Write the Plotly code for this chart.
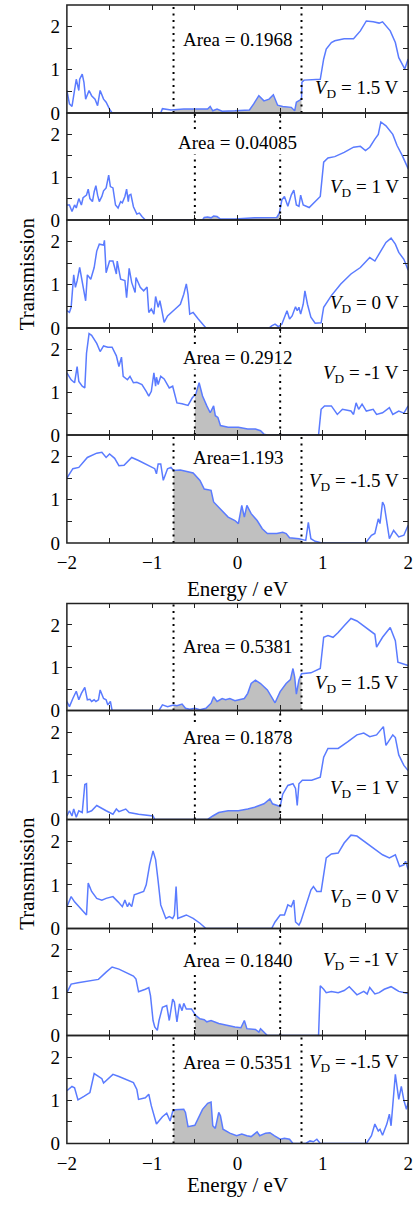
import numpy as np
import plotly.graph_objects as go

# ---------------- data (Energy in eV, Transmission) ----------------
# top group
E_a1 = [-2.0,-1.97,-1.94,-1.91,-1.89,-1.86,-1.85,-1.82,-1.80,-1.78,-1.74,-1.71,-1.67,-1.64,-1.61,-1.57,-1.54,-1.50,-1.47,-0.90,-0.88,-0.78,-0.63,-0.41,-0.35,-0.32,-0.29,-0.24,-0.18,-0.03,0.14,0.19,0.25,0.31,0.37,0.42,0.47,0.53,0.63,0.67,0.69,0.75,0.755,0.78,0.97,1.01,1.04,1.10,1.14,1.25,1.36,1.44,1.51,1.59,1.66,1.70,1.79,1.85,1.89,1.96,2.0]
T_a1 = [0.52,0.21,0.15,0.48,0.78,0.52,0.78,0.90,0.71,0.32,0.52,0.40,0.32,0.17,0.52,0.32,0.25,0.09,0.0,0.0,0.10,0.07,0.09,0.09,0.09,0.15,0.05,0.09,0.04,0.05,0.07,0.21,0.40,0.28,0.32,0.42,0.18,0.15,0.13,0.05,0.25,0.32,0.71,0.76,0.78,1.25,1.48,1.63,1.67,1.72,1.72,1.90,2.13,2.11,2.08,2.11,1.90,1.63,1.28,1.02,1.25]

E_a2 = [-2.0,-1.97,-1.94,-1.91,-1.89,-1.86,-1.83,-1.81,-1.77,-1.75,-1.73,-1.70,-1.68,-1.66,-1.64,-1.62,-1.59,-1.57,-1.54,-1.51,-1.49,-1.46,-1.43,-1.40,-1.37,-1.35,-1.32,-1.30,-1.28,-1.27,-1.25,-1.22,-1.18,-1.15,-1.12,-1.08,-0.41,-0.39,-0.35,-0.31,-0.28,-0.24,-0.20,-0.03,0.20,0.46,0.49,0.52,0.55,0.59,0.63,0.66,0.69,0.72,0.74,0.77,0.84,0.97,1.01,1.06,1.14,1.25,1.36,1.44,1.50,1.55,1.61,1.65,1.68,1.74,1.82,1.87,1.93,2.0]
T_a2 = [0.35,0.35,0.20,0.35,0.28,0.50,0.35,0.52,0.58,0.72,0.50,0.43,0.66,0.80,0.58,0.43,0.55,0.68,0.75,1.05,0.78,0.75,0.35,0.28,0.43,0.40,0.55,0.72,0.43,0.58,0.60,0.31,0.14,0.16,0.08,0.0,0.0,0.06,0.07,0.05,0.09,0.08,0.02,0.02,0.05,0.06,0.16,0.47,0.55,0.32,0.58,0.70,0.35,0.32,0.58,0.35,0.29,0.55,1.35,1.45,1.48,1.58,1.70,1.72,1.62,1.70,1.89,2.0,2.29,2.2,2.0,1.74,1.51,1.2]

E_a3 = [-2.0,-1.97,-1.95,-1.92,-1.90,-1.88,-1.85,-1.82,-1.78,-1.76,-1.72,-1.68,-1.65,-1.62,-1.57,-1.56,-1.54,-1.50,-1.46,-1.42,-1.41,-1.37,-1.32,-1.30,-1.27,-1.24,-1.20,-1.19,-1.14,-1.10,-1.06,-1.04,-1.01,-0.98,-0.96,-0.93,-0.91,-0.89,-0.86,-0.82,-0.78,-0.73,-0.67,-0.63,-0.60,-0.58,-0.56,-0.52,-0.46,-0.41,-0.37,0.37,0.40,0.44,0.48,0.52,0.55,0.58,0.61,0.64,0.68,0.70,0.72,0.74,0.77,0.79,0.82,0.86,0.91,0.98,1.01,1.10,1.21,1.33,1.44,1.55,1.61,1.66,1.74,1.80,1.85,1.89,1.95,2.0]
T_a3 = [0.40,0.36,0.48,1.23,0.94,1.09,1.40,1.05,0.63,1.23,1.13,1.40,1.78,1.94,1.92,2.03,1.28,1.55,1.55,1.25,1.55,1.13,1.10,0.70,1.38,1.05,0.82,1.17,0.94,0.86,0.95,0.36,0.44,0.32,0.73,0.48,0.63,0.44,0.13,0.28,0.36,0.44,0.55,0.78,1.02,0.78,0.32,0.36,0.21,0.09,0.0,0.0,0.05,0.09,0.03,0.09,0.25,0.40,0.21,0.28,0.49,0.40,0.48,0.32,0.55,0.86,0.55,0.25,0.11,0.12,0.48,0.75,1.02,1.25,1.40,1.63,1.55,1.71,1.98,2.08,1.94,1.75,1.59,1.34]

E_a4 = [-2.0,-1.95,-1.91,-1.88,-1.86,-1.82,-1.79,-1.77,-1.74,-1.71,-1.65,-1.61,-1.57,-1.52,-1.47,-1.42,-1.39,-1.36,-1.34,-1.29,-1.26,-1.22,-1.18,-1.12,-1.07,-1.04,-1.01,-0.98,-0.96,-0.95,-0.93,-0.90,-0.86,-0.80,-0.76,-0.71,-0.65,-0.58,-0.53,-0.49,-0.45,-0.41,-0.36,-0.32,-0.28,-0.26,-0.23,-0.20,-0.11,0.01,0.12,0.21,0.27,0.31,0.35,0.95,0.98,1.02,1.10,1.17,1.23,1.33,1.36,1.39,1.42,1.46,1.51,1.59,1.63,1.70,1.78,1.82,1.89,1.95,2.0]
T_a4 = [1.45,1.29,1.22,1.60,1.25,1.14,1.10,1.91,2.37,2.33,2.14,1.95,2.08,2.05,2.05,1.85,1.60,1.82,1.37,1.29,1.37,1.22,1.23,1.18,1.02,0.91,1.02,1.45,1.14,1.35,1.18,1.37,1.31,1.10,1.14,0.75,0.73,0.69,0.87,0.95,1.22,0.91,0.68,0.52,0.68,0.45,0.41,0.22,0.18,0.18,0.14,0.14,0.10,0.02,0.0,0.0,0.60,0.68,0.68,0.48,0.60,0.56,0.48,0.75,0.60,0.72,0.56,0.60,0.48,0.52,0.64,0.48,0.56,0.51,0.68]

E_a5 = [-2.0,-1.93,-1.86,-1.76,-1.65,-1.59,-1.54,-1.50,-1.44,-1.39,-1.33,-1.24,-1.16,-1.05,-0.97,-0.95,-0.93,-0.90,-0.87,-0.82,-0.78,-0.75,-0.67,-0.52,-0.44,-0.39,-0.31,-0.28,-0.18,-0.11,-0.03,0.01,0.05,0.08,0.11,0.16,0.23,0.29,0.35,0.46,0.53,0.57,0.61,0.72,0.80,0.83,0.86,0.91,0.99,1.50,1.57,1.61,1.65,1.67,1.70,1.72,1.78,1.83,1.89,1.95,2.0]
T_a5 = [1.50,1.72,1.75,1.98,2.08,2.10,1.98,2.06,1.96,1.79,1.80,1.98,1.91,1.79,1.72,1.60,1.83,1.83,1.45,1.72,1.75,1.68,1.69,1.62,1.45,1.25,1.22,0.95,0.75,0.60,0.52,0.45,0.87,0.60,0.87,0.68,0.52,0.33,0.22,0.22,0.25,0.22,0.12,0.10,0.06,0.48,0.10,0.04,0.0,0.0,0.18,0.22,0.56,0.45,0.95,0.87,0.10,0.29,0.14,0.18,0.41]

# bottom group
E_b1 = [-2.0,-1.97,-1.93,-1.89,-1.86,-1.83,-1.79,-1.76,-1.73,-1.71,-1.68,-1.66,-1.63,-1.61,-1.57,-1.54,-1.52,-1.49,-1.47,-0.92,-0.88,-0.82,-0.75,-0.71,-0.65,-0.61,-0.56,-0.50,-0.44,-0.37,-0.31,-0.28,-0.24,-0.18,-0.14,-0.09,-0.03,0.08,0.12,0.16,0.21,0.27,0.35,0.40,0.44,0.50,0.57,0.62,0.65,0.67,0.69,0.72,0.75,0.86,0.97,1.01,1.06,1.12,1.18,1.25,1.33,1.40,1.48,1.61,1.63,1.70,1.79,1.85,1.88,1.95,2.0]
T_b1 = [0.21,0.09,0.28,0.45,0.25,0.40,0.54,0.25,0.26,0.21,0.25,0.21,0.25,0.48,0.28,0.25,0.13,0.21,0.0,0.0,0.13,0.09,0.13,0.11,0.15,0.05,0.03,0.05,0.02,0.05,0.17,0.32,0.21,0.28,0.25,0.28,0.23,0.28,0.40,0.63,0.71,0.63,0.48,0.32,0.18,0.44,0.63,0.72,0.98,0.78,0.38,0.71,0.86,0.88,0.98,1.71,1.75,1.71,1.82,1.98,2.15,2.09,1.98,1.78,1.48,1.71,1.94,1.63,1.13,1.09,1.05]

E_b2 = [-2.0,-1.97,-1.94,-1.92,-1.89,-1.86,-1.82,-1.79,-1.77,-1.76,-1.71,-1.65,-1.54,-1.46,-1.42,-1.39,-1.31,-1.27,-1.16,-1.05,-0.99,-0.97,-0.35,-0.29,-0.22,-0.11,0.01,0.12,0.20,0.31,0.38,0.41,0.46,0.50,0.53,0.59,0.65,0.68,0.70,0.72,0.76,0.87,0.97,1.01,1.06,1.18,1.29,1.40,1.48,1.55,1.63,1.71,1.74,1.78,1.82,1.85,1.89,1.95,2.0]
T_b2 = [0.08,0.20,0.08,0.24,0.05,0.20,0.16,0.80,0.82,0.16,0.20,0.32,0.20,0.12,0.24,0.18,0.24,0.16,0.12,0.10,0.08,0.0,0.0,0.08,0.16,0.20,0.20,0.24,0.28,0.36,0.47,0.36,0.32,0.30,0.58,0.78,0.82,0.71,0.32,0.82,0.90,0.90,0.97,1.43,1.63,1.63,1.78,1.94,1.98,1.90,1.94,2.13,1.70,1.82,1.94,1.88,1.48,1.24,1.12]

E_b3 = [-2.0,-1.95,-1.91,-1.86,-1.82,-1.77,-1.75,-1.71,-1.65,-1.59,-1.54,-1.46,-1.40,-1.35,-1.32,-1.29,-1.27,-1.24,-1.21,-1.16,-1.10,-1.07,-1.03,-0.99,-0.96,-0.93,-0.90,-0.84,-0.80,-0.76,-0.74,-0.72,-0.70,-0.65,-0.60,-0.52,-0.44,-0.37,0.40,0.44,0.50,0.55,0.59,0.63,0.66,0.68,0.72,0.74,0.80,0.86,0.89,0.93,0.98,1.01,1.04,1.10,1.18,1.25,1.33,1.40,1.48,1.59,1.70,1.78,1.85,1.90,1.95,1.97,2.0]
T_b3 = [0.50,0.73,0.61,0.50,0.42,0.31,1.04,0.85,0.69,0.65,0.69,0.73,0.61,0.50,0.65,0.50,0.58,0.50,0.77,0.81,0.85,1.00,1.46,1.78,1.58,1.08,0.54,0.23,0.27,0.23,0.31,0.96,0.23,0.27,0.31,0.23,0.12,0.0,0.0,0.15,0.31,0.31,0.54,0.50,0.65,0.15,0.08,0.15,0.50,0.88,0.96,0.85,0.85,1.23,1.62,1.71,1.73,1.96,2.14,2.12,2.00,1.85,1.69,1.62,1.69,1.42,1.46,1.54,1.35]

E_b4 = [-2.0,-1.95,-1.87,-1.76,-1.63,-1.54,-1.47,-1.39,-1.22,-1.19,-1.16,-1.08,-1.04,-1.02,-0.99,-0.97,-0.94,-0.92,-0.88,-0.83,-0.80,-0.76,-0.74,-0.71,-0.68,-0.65,-0.63,-0.60,-0.54,-0.49,-0.44,-0.39,-0.36,-0.31,-0.27,-0.22,-0.03,0.04,0.08,0.11,0.21,0.25,0.27,0.31,0.35,0.95,0.97,1.01,1.04,1.10,1.18,1.25,1.31,1.40,1.48,1.52,1.55,1.61,1.66,1.72,1.80,1.85,1.89,2.0]
T_b4 = [1.00,1.20,1.23,1.26,1.31,1.48,1.60,1.55,1.39,1.32,1.02,1.08,1.12,0.93,0.35,0.20,0.12,0.35,0.66,0.70,0.35,0.85,0.78,0.32,0.74,0.58,0.75,0.62,0.62,0.47,0.39,0.37,0.32,0.35,0.32,0.28,0.20,0.18,0.35,0.16,0.14,0.08,0.16,0.08,0.0,0.0,1.16,1.08,1.00,1.03,1.00,1.05,1.14,0.95,1.03,0.97,1.12,0.97,1.00,1.08,1.14,1.08,1.03,0.98]

E_b5 = [-2.0,-1.94,-1.91,-1.87,-1.80,-1.76,-1.73,-1.68,-1.59,-1.57,-1.46,-1.39,-1.22,-1.18,-1.16,-1.08,-1.04,-1.01,-0.95,-0.88,-0.83,-0.79,-0.76,-0.73,-0.63,-0.61,-0.58,-0.50,-0.41,-0.35,-0.31,-0.29,-0.26,-0.22,-0.20,-0.17,-0.14,-0.09,-0.01,0.05,0.11,0.16,0.23,0.26,0.33,0.38,0.43,0.50,0.55,0.61,0.65,0.80,0.85,0.89,0.93,0.97,1.51,1.57,1.61,1.65,1.67,1.70,1.75,1.78,1.80,1.85,1.89,1.92,1.95,1.98,2.0]
T_b5 = [1.22,1.32,1.29,1.01,1.09,1.14,1.18,1.62,1.50,1.40,1.60,1.55,1.41,1.25,1.02,1.06,1.14,0.87,0.45,0.62,0.70,0.52,0.74,0.78,0.79,0.72,0.39,0.42,0.79,0.93,0.96,0.41,0.35,0.72,0.64,0.33,0.29,0.24,0.18,0.22,0.18,0.16,0.27,0.18,0.24,0.25,0.18,0.10,0.12,0.10,0.0,0.0,0.06,0.04,0.10,0.0,0.0,0.18,0.45,0.29,0.33,0.19,0.45,0.68,0.41,1.60,1.02,1.32,1.00,0.79,0.95]

VD_labels = ["1.5", "1", "0", "-1", "-1.5"]
area_top = ["Area = 0.1968", "Area = 0.04085", None, "Area = 0.2912", "Area=1.193"]
area_bot = ["Area = 0.5381", "Area = 0.1878", None, "Area = 0.1840", "Area = 0.5351"]
windows = [0.75, 0.5, None, 0.5, 0.75]   # integration window half-widths (eV)
x_ticks = [-2, -1, 0, 1, 2]
y_ticks = [0, 1, 2]

# ---------------- layout constants ----------------
W, H = 417, 1209
FONT = "Liberation Serif"
LINE = "#5a7bff"
FILL = "#c0c0c0"
AX = "#222222"
xdom = [59 / W, 413 / W]
group_bounds = [[5, 114, 222, 331, 439, 548], [609, 717, 827, 937, 1045, 1154]]
panel_px = []
for gb in group_bounds:
    for j in range(5):
        panel_px.append((gb[j], gb[j + 1]))
vd_y = [0.55, 0.74, 0.55, 1.43, 1.41, 0.62, 0.69, 0.69, 1.73, 1.87]
area_y = [1.71, 1.82, None, 1.82, 1.99, 1.50, 1.87, None, 1.75, 1.87]

panels = [(E_a1, T_a1), (E_a2, T_a2), (E_a3, T_a3), (E_a4, T_a4), (E_a5, T_a5),
          (E_b1, T_b1), (E_b2, T_b2), (E_b3, T_b3), (E_b4, T_b4), (E_b5, T_b5)]
areas = area_top + area_bot

fig = go.Figure()
layout = dict(width=W, height=H, margin=dict(l=0, r=0, t=0, b=0),
              paper_bgcolor="white", plot_bgcolor="white", showlegend=False,
              font=dict(family=FONT, size=19, color="black"))
annotations = []
shapes = []

for i, (E, T) in enumerate(panels):
    k = i + 1
    xs = "x" if k == 1 else f"x{k}"
    ys = "y" if k == 1 else f"y{k}"
    w = windows[i % 5]
    if w is not None:
        Ea = np.array(E); Ta = np.array(T)
        inside = (Ea > -w) & (Ea < w)
        fx = np.concatenate([[-w], Ea[inside], [w]])
        fy = np.concatenate([[np.interp(-w, Ea, Ta)], Ta[inside], [np.interp(w, Ea, Ta)]])
        fig.add_trace(go.Scatter(x=fx, y=fy, mode="lines", fill="tozeroy",
                                 fillcolor=FILL, line=dict(width=0, color=FILL),
                                 xaxis=xs, yaxis=ys, hoverinfo="skip"))
        for xv in (-w, w):
            shapes.append(dict(type="line", xref=xs, yref=f"{ys} domain",
                               x0=xv, x1=xv, y0=0, y1=1,
                               line=dict(color="black", width=2, dash="2px,4.5px")))
    fig.add_trace(go.Scatter(x=E, y=T, mode="lines", line=dict(color=LINE, width=1.5),
                             xaxis=xs, yaxis=ys))
    # panel frame (drawn once, so shared borders stay thin)
    shapes.append(dict(type="rect", xref=f"{xs} domain", yref=f"{ys} domain",
                       x0=0, x1=1, y0=0, y1=1, line=dict(color=AX, width=1.5),
                       fillcolor="rgba(0,0,0,0)"))

    top, bot = panel_px[i]
    bottom_panel = (i % 5 == 4)
    layout["xaxis" if k == 1 else f"xaxis{k}"] = dict(
        domain=xdom, anchor=ys, range=[-2, 2], tickvals=x_ticks,
        ticks="inside", ticklen=5, tickwidth=1, tickcolor=AX,
        minor=dict(dtick=0.5, tick0=0, ticks="inside", ticklen=5, tickwidth=1, tickcolor=AX),
        showline=False, linewidth=1, mirror="ticks",
        showgrid=False, zeroline=False, showticklabels=bottom_panel,
        ticklabelstandoff=6, ticklabeloverflow="allow",
        tickfont=dict(family=FONT, size=19))
    layout["yaxis" if k == 1 else f"yaxis{k}"] = dict(
        domain=[1 - bot / H, 1 - top / H], anchor=xs, range=[0, 2.5], tickvals=y_ticks,
        ticks="inside", ticklen=5, tickwidth=1, tickcolor=AX,
        minor=dict(dtick=0.5, tick0=0, ticks="inside", ticklen=5, tickwidth=1, tickcolor=AX),
        showline=False, linewidth=1, mirror="ticks",
        showgrid=False, zeroline=False, ticklabelstandoff=6,
        tickfont=dict(family=FONT, size=19))

    annotations.append(dict(xref=xs, yref=ys, x=1.92, y=vd_y[i], xanchor="right",
                            yanchor="middle", showarrow=False,
                            text=f"<i>V</i><sub>D</sub> = {VD_labels[i % 5]} V",
                            font=dict(family=FONT, size=19)))
    if areas[i]:
        annotations.append(dict(xref=xs, yref=ys, x=0, y=area_y[i], xanchor="center",
                                yanchor="middle", showarrow=False, text=areas[i],
                                bgcolor="white", borderpad=1,
                                font=dict(family=FONT, size=19)))

for cy in [(5 + 548) / 2, (609 + 1154) / 2]:
    annotations.append(dict(xref="paper", yref="paper", x=18 / W, y=1 - cy / H,
                            xanchor="center", yanchor="middle", textangle=-90,
                            showarrow=False, text="Transmission",
                            font=dict(family=FONT, size=21)))
for ey in [594, 1196]:
    annotations.append(dict(xref="paper", yref="paper", x=236 / W, y=1 - ey / H,
                            xanchor="center", yanchor="middle", showarrow=False,
                            text="Energy / eV", font=dict(family=FONT, size=21)))

layout["annotations"] = annotations
layout["shapes"] = shapes
fig.update_layout(**layout)
fig.write_html("out.html")
